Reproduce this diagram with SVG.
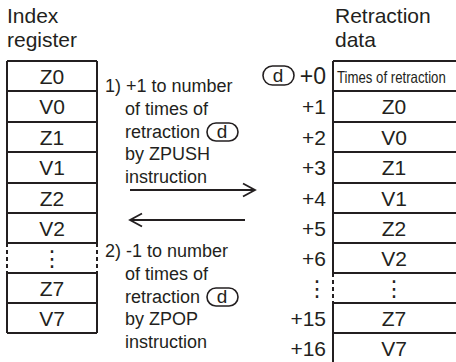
<svg xmlns="http://www.w3.org/2000/svg" width="456" height="362" viewBox="0 0 456 362">
<defs>
<style>
text{font-family:"Liberation Sans",Arial,sans-serif;fill:#231f20}
.h{font-size:21px}
.c{font-size:21px;text-anchor:middle}
.n{font-size:21px;text-anchor:end}
.a{font-size:18px}
.d{font-size:19px;text-anchor:middle}
.v{font-family:"DejaVu Sans",sans-serif;font-size:22px;text-anchor:middle}
.ln{stroke:#231f20;stroke-width:2;fill:none}
.ds{stroke:#231f20;stroke-width:2;fill:none;stroke-dasharray:4 3}
.ov{stroke:#231f20;stroke-width:1.6;fill:#fff}
</style>
<marker id="ah" markerWidth="16" markerHeight="16" refX="13" refY="8" orient="auto-start-reverse" markerUnits="userSpaceOnUse">
<polyline points="1,1.5 13,8 1,14.5" fill="none" stroke="#231f20" stroke-width="1.8"/>
</marker>
</defs>
<rect width="456" height="362" fill="#fff"/>
<g id="index-register">
<text class="h" x="7" y="23">Index</text>
<text class="h" x="7" y="47">register</text>
<path class="ln" d="M7,61H97M7,91H97M7,122H97M7,152H97M7,183H97M7,213H97M7,243H97M7,273H97M7,303H97M7,333H97M7,61V243M97,61V243M7,273V333M97,273V333"/>
<path class="ds" d="M7,243V273M97,243V273"/>
<text class="c" x="52" y="84">Z0</text>
<text class="c" x="52" y="114">V0</text>
<text class="c" x="52" y="145">Z1</text>
<text class="c" x="52" y="175">V1</text>
<text class="c" x="52" y="206">Z2</text>
<text class="c" x="52" y="236">V2</text>
<text class="v" x="52" y="266">⋮</text>
<text class="c" x="52" y="296">Z7</text>
<text class="c" x="52" y="326">V7</text>
</g>
<g id="retraction-data">
<text class="h" x="335" y="23">Retraction</text>
<text class="h" x="335" y="47">data</text>
<path class="ln" d="M333,61H456M333,91H456M333,122H456M333,152H456M333,183H456M333,213H456M333,243H456M333,273H456M333,303H456M333,333H456M333,61V273M333,303V362"/>
<path class="ds" d="M333,273V303"/>
<text transform="translate(337,83) scale(0.8,1)" style="font-size:16.5px">Times of retraction</text>
<text class="c" x="394" y="114">Z0</text>
<text class="c" x="394" y="145">V0</text>
<text class="c" x="394" y="175">Z1</text>
<text class="c" x="394" y="206">V1</text>
<text class="c" x="394" y="236">Z2</text>
<text class="c" x="394" y="266">V2</text>
<text class="v" x="394" y="296">⋮</text>
<text class="c" x="394" y="326">Z7</text>
<text class="c" x="394" y="356">V7</text>
<rect class="ov" x="263" y="66" width="31" height="19" rx="9.5"/>
<text class="d" x="278" y="82">d</text>
<text class="n" x="326" y="84" style="font-size:23px">+0</text>
<text class="n" x="326" y="114">+1</text>
<text class="n" x="326" y="145">+2</text>
<text class="n" x="326" y="175">+3</text>
<text class="n" x="326" y="206">+4</text>
<text class="n" x="326" y="236">+5</text>
<text class="n" x="326" y="266">+6</text>
<text class="v" x="317" y="296">⋮</text>
<text class="n" x="326" y="326">+15</text>
<text class="n" x="326" y="356">+16</text>
</g>
<g id="note-push">
<text class="a" x="105" y="92">1)</text>
<text class="a" x="126" y="92">+1 to number</text>
<text class="a" x="125" y="115">of times of</text>
<text class="a" x="125" y="138">retraction</text>
<rect class="ov" x="207" y="123" width="31" height="18" rx="9"/>
<text class="d" x="222" y="138">d</text>
<text class="a" x="125" y="160">by ZPUSH</text>
<text class="a" x="125" y="183">instruction</text>
</g>
<g id="note-pop">
<text class="a" x="105" y="257">2)</text>
<text class="a" x="126" y="257">-1 to number</text>
<text class="a" x="125" y="280">of times of</text>
<text class="a" x="125" y="303">retraction</text>
<rect class="ov" x="207" y="288" width="31" height="18" rx="9"/>
<text class="d" x="222" y="303">d</text>
<text class="a" x="125" y="325">by ZPOP</text>
<text class="a" x="125" y="348">instruction</text>
</g>
<g id="connectors">
<line class="ln" x1="130" y1="190" x2="255" y2="190" marker-end="url(#ah)"/>
<line class="ln" x1="130" y1="220" x2="245" y2="220" marker-start="url(#ah)"/>
</g>
</svg>
